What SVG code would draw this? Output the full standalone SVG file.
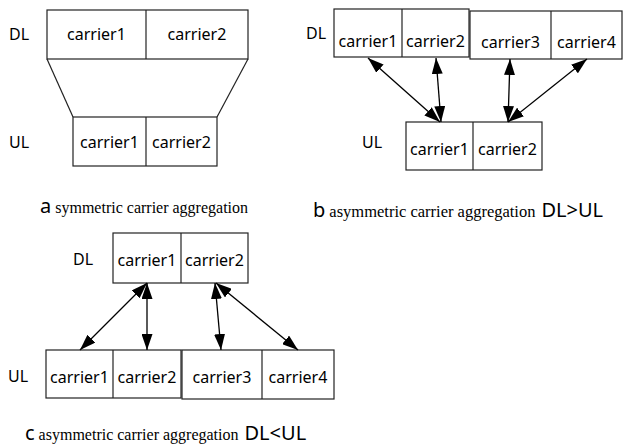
<svg xmlns="http://www.w3.org/2000/svg" width="624" height="445" viewBox="0 0 624 445">
  <style>
    .box { fill: #fff; stroke: #222; stroke-width: 1.2; }
    .div { stroke: #222; stroke-width: 1.2; }
    .lbl { font-family: "Noto Sans", "Open Sans", sans-serif; font-size: 16px; fill: #000; }
    .cc { text-anchor: middle; }
    .tag { font-family: "Noto Sans", "Open Sans", sans-serif; font-size: 20px; fill: #000; }
    .cap { font-family: "Liberation Serif", "Times New Roman", serif; font-size: 16px; fill: #000; }
    .link { stroke: #000; stroke-width: 1.3; fill: none; marker-start: url(#head); marker-end: url(#head); }
    .fan { stroke: #222; stroke-width: 1.2; fill: none; }
  </style>
  <defs>
    <marker id="head" markerUnits="userSpaceOnUse" markerWidth="16" markerHeight="11" refX="16" refY="5.5" orient="auto-start-reverse">
      <path d="M0,0 L16,5.5 L0,11 z" fill="#000"/>
    </marker>
  </defs>
  <rect width="624" height="445" fill="#fff"/>

  <!-- (a) symmetric carrier aggregation -->
  <g id="a-labels">
    <text class="lbl" x="9" y="40">DL</text>
    <text class="lbl" x="9" y="148">UL</text>
  </g>
  <g id="a-dl">
    <rect class="box" x="47" y="10" width="201" height="49"/>
    <line class="div" x1="146" y1="10" x2="146" y2="59"/>
    <text class="lbl cc" x="96.5" y="40">carrier1</text>
    <text class="lbl cc" x="197" y="40">carrier2</text>
  </g>
  <g id="a-ul">
    <rect class="box" x="73" y="117" width="144" height="49"/>
    <line class="div" x1="146" y1="117" x2="146" y2="166"/>
    <text class="lbl cc" x="109.5" y="148">carrier1</text>
    <text class="lbl cc" x="181.5" y="148">carrier2</text>
  </g>
  <g id="a-fan">
    <line class="fan" x1="47" y1="59" x2="73" y2="117"/>
    <line class="fan" x1="248" y1="59" x2="217" y2="117"/>
  </g>
  <g id="a-caption">
    <text x="40" y="213"><tspan class="tag">a</tspan><tspan class="cap" dx="4">symmetric carrier aggregation</tspan></text>
  </g>

  <!-- (b) asymmetric carrier aggregation, DL > UL -->
  <g id="b-labels">
    <text class="lbl" x="306" y="39">DL</text>
    <text class="lbl" x="362" y="148">UL</text>
  </g>
  <g id="b-dl-12">
    <rect class="box" x="334" y="9" width="135" height="48"/>
    <line class="div" x1="402" y1="9" x2="402" y2="57"/>
    <text class="lbl cc" x="368" y="47">carrier1</text>
    <text class="lbl cc" x="435.5" y="47">carrier2</text>
  </g>
  <g id="b-dl-34">
    <rect class="box" x="470" y="11" width="152" height="48"/>
    <line class="div" x1="551" y1="11" x2="551" y2="59"/>
    <text class="lbl cc" x="510.5" y="48">carrier3</text>
    <text class="lbl cc" x="586.5" y="48">carrier4</text>
  </g>
  <g id="b-ul">
    <rect class="box" x="406" y="122" width="136" height="48"/>
    <line class="div" x1="473" y1="122" x2="473" y2="170"/>
    <text class="lbl cc" x="439.5" y="155">carrier1</text>
    <text class="lbl cc" x="507.5" y="155">carrier2</text>
  </g>
  <g id="b-links">
    <line class="link" x1="368" y1="58" x2="440" y2="122"/>
    <line class="link" x1="436" y1="58" x2="441" y2="122"/>
    <line class="link" x1="510" y1="59" x2="508" y2="122"/>
    <line class="link" x1="587" y1="59" x2="508" y2="122"/>
  </g>
  <g id="b-caption">
    <text x="313" y="217"><tspan class="tag">b</tspan><tspan class="cap" dx="4" style="font-size:16.5px">asymmetric carrier aggregation</tspan><tspan class="tag" dx="6">DL&gt;UL</tspan></text>
  </g>

  <!-- (c) asymmetric carrier aggregation, DL < UL -->
  <g id="c-labels">
    <text class="lbl" x="73" y="265">DL</text>
    <text class="lbl" x="8" y="382">UL</text>
  </g>
  <g id="c-dl">
    <rect class="box" x="113" y="233" width="135" height="50"/>
    <line class="div" x1="181" y1="233" x2="181" y2="283"/>
    <text class="lbl cc" x="147" y="266">carrier1</text>
    <text class="lbl cc" x="214.5" y="266">carrier2</text>
  </g>
  <g id="c-ul-12">
    <rect class="box" x="46" y="350" width="135" height="48"/>
    <line class="div" x1="113" y1="350" x2="113" y2="398"/>
    <text class="lbl cc" x="79.5" y="383">carrier1</text>
    <text class="lbl cc" x="147" y="383">carrier2</text>
  </g>
  <g id="c-ul-34">
    <rect class="box" x="182" y="350" width="152" height="49"/>
    <line class="div" x1="262" y1="350" x2="262" y2="399"/>
    <text class="lbl cc" x="222" y="383">carrier3</text>
    <text class="lbl cc" x="298" y="383">carrier4</text>
  </g>
  <g id="c-links">
    <line class="link" x1="147" y1="283" x2="80" y2="350"/>
    <line class="link" x1="147" y1="283" x2="147" y2="350"/>
    <line class="link" x1="215" y1="283" x2="221" y2="350"/>
    <line class="link" x1="216" y1="283" x2="298" y2="350"/>
  </g>
  <g id="c-caption">
    <text x="25" y="440"><tspan class="tag">c</tspan><tspan class="cap" dx="4">asymmetric carrier aggregation</tspan><tspan class="tag" dx="6">DL&lt;UL</tspan></text>
  </g>
</svg>
